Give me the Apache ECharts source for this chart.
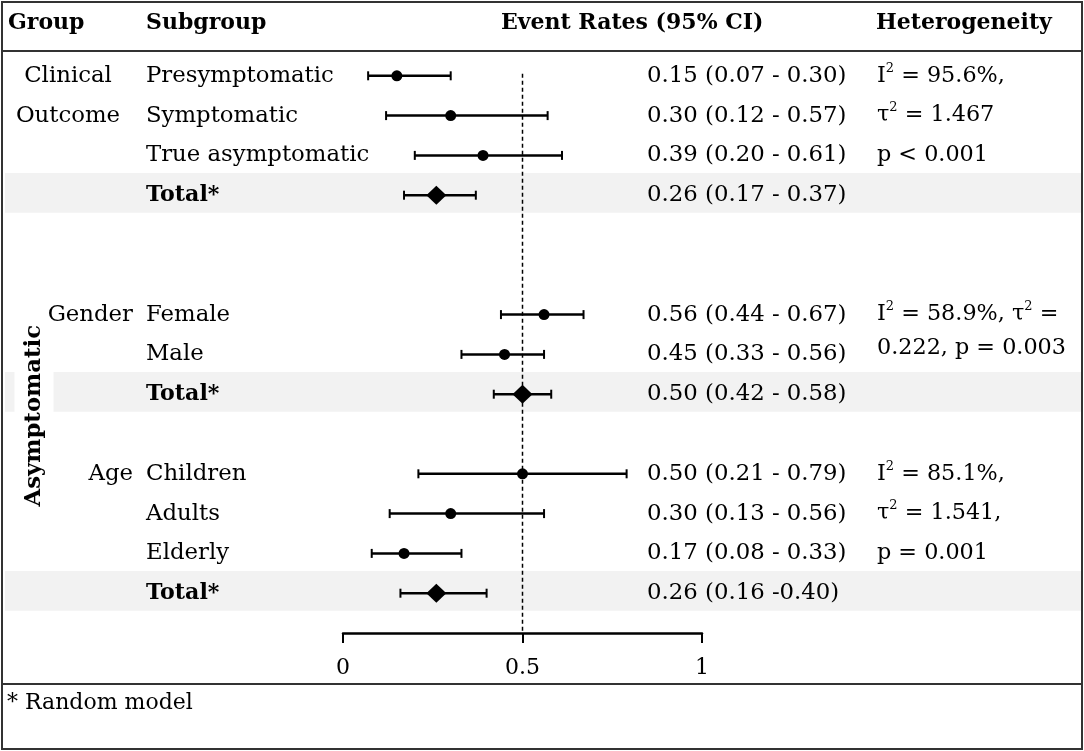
<!DOCTYPE html>
<html><head><meta charset="utf-8">
<script src="https://cdn.jsdelivr.net/npm/echarts@6/dist/echarts.min.js"></script>
<style>html,body{margin:0;padding:0;background:#fff}#c{width:1084px;height:751px}</style>
</head><body><div id="c"></div>
<script>
// ---- data ----
const subgroups = ['Presymptomatic','Symptomatic','True asymptomatic','Total*','Female','Male','Total*','Children','Adults','Elderly','Total*'];
const rows = [0,1,2,3,6,7,8,10,11,12,13];
const estimates = [0.15,0.30,0.39,0.26,0.56,0.45,0.50,0.50,0.30,0.17,0.26];
const lowerCI = [0.07,0.12,0.20,0.17,0.44,0.33,0.42,0.21,0.13,0.08,0.16];
const upperCI = [0.30,0.57,0.61,0.37,0.67,0.56,0.58,0.79,0.56,0.33,0.40];
const totalFlags = [false,false,false,true,false,false,true,false,false,false,true];
const ciLabels = ['0.15 (0.07 - 0.30)','0.30 (0.12 - 0.57)','0.39 (0.20 - 0.61)','0.26 (0.17 - 0.37)',
  '0.56 (0.44 - 0.67)','0.45 (0.33 - 0.56)','0.50 (0.42 - 0.58)',
  '0.50 (0.21 - 0.79)','0.30 (0.13 - 0.56)','0.17 (0.08 - 0.33)','0.26 (0.16 -0.40)'];
const groupLabels = ['Clinical','Outcome','Gender','Age'];
const groupRows = [0,1,6,10];
const hetLines = ['I{s|2} = 95.6%,','τ{s|2} = 1.467','p < 0.001','I{s|2} = 58.9%, τ{s|2} =','0.222, p = 0.003','I{s|2} = 85.1%,','τ{s|2} = 1.541,','p = 0.001'];
const hetRows = [0,1,2,6,6.85,10,11,12];
const xTicks = [0, 0.5, 1];
const headers = ['Group','Subgroup','Event Rates (95% CI)','Heterogeneity'];
const sideLabel = 'Asymptomatic';
const footnote = '* Random model';

// ---- layout ----
const FONT = 'DejaVu Serif';
const FS = 22.8;
const TXT = '#000';
const W = 1084, H = 751;
const gridTop = 36, gridBottom = 118;
const yMin = -1, yMax = 14;
const colGroupCenter = 68, colGroupRight = 133, colSub = 146, colCI = 647, colHet = 877;
const headerX = [8, 146, 501, 876];

const chart = echarts.init(document.getElementById('c'), null, {renderer: 'canvas'});

function labelSeries(data, labelOpt, extra) {
  return Object.assign({
    type: 'scatter', xAxisIndex: 1, yAxisIndex: 1, symbolSize: 0, silent: true, z: 4,
    itemStyle: {opacity: 1},
    data: data,
    label: Object.assign({show: true, fontFamily: FONT, fontSize: FS, color: TXT,
      formatter: p => p.data.t}, labelOpt)
  }, extra || {});
}

const totalRows = rows.filter((r, i) => totalFlags[i]);

const option = {
  animation: false,
  backgroundColor: '#fff',
  grid: [
    {left: 343, right: W - 702, top: gridTop, bottom: gridBottom},
    {left: 0, right: 0, top: gridTop, bottom: gridBottom}
  ],
  xAxis: [
    {gridIndex: 0, type: 'value', min: 0, max: 1, interval: 0.5, position: 'bottom',
      axisLine: {show: true, onZero: false, lineStyle: {color: '#000', width: 2.5}},
      axisTick: {show: true, length: 10, lineStyle: {color: '#000', width: 2}},
      axisLabel: {fontFamily: FONT, fontSize: 22, color: TXT, margin: 24,
        formatter: v => (xTicks.indexOf(v) >= 0 ? String(v) : '')},
      splitLine: {show: false}},
    {gridIndex: 1, type: 'value', min: 0, max: W, show: false}
  ],
  yAxis: [
    {gridIndex: 0, type: 'value', min: yMin, max: yMax, inverse: true, show: false},
    {gridIndex: 1, type: 'value', min: yMin, max: yMax, inverse: true, show: false}
  ],
  series: [
    // shaded total rows
    {type: 'scatter', xAxisIndex: 1, yAxisIndex: 1, data: [], z: 0, silent: true,
      markArea: {silent: true, itemStyle: {color: '#f2f2f2', opacity: 1},
        data: totalRows.map(r => [{xAxis: 5, yAxis: r - 0.56}, {xAxis: W - 3, yAxis: r + 0.44}])}},
    // group labels
    labelSeries(groupLabels.slice(0, 2).map((t, i) => ({value: [colGroupCenter, groupRows[i]], t})),
      {position: 'inside'}),
    labelSeries(groupLabels.slice(2).map((t, i) => ({value: [colGroupRight, groupRows[i + 2]], t})),
      {position: 'left', distance: 0}),
    // subgroup labels
    labelSeries(subgroups.map((t, i) => ({value: [colSub, rows[i]], t,
      label: totalFlags[i] ? {fontWeight: 'bold', fontSize: 22.2} : {}})),
      {position: 'right', distance: 0}),
    // CI labels
    labelSeries(ciLabels.map((t, i) => ({value: [colCI, rows[i]], t})),
      {position: 'right', distance: 0}),
    // heterogeneity
    labelSeries(hetLines.map((t, i) => ({value: [colHet, hetRows[i]], t})),
      {position: 'right', distance: 0, fontSize: 22.3, lineHeight: 28,
        rich: {s: {fontFamily: FONT, fontSize: 13, color: TXT, verticalAlign: 'top', lineHeight: 13}}}),
    // side label
    labelSeries([{value: [34, 8.54], t: sideLabel}],
      {position: 'inside', rotate: 90, fontWeight: 'bold', fontSize: 22.8,
        backgroundColor: '#fff', padding: [8, 0]}, {z: 6}),
    // reference line at 0.5
    {type: 'line', xAxisIndex: 0, yAxisIndex: 0, symbol: 'none', silent: true, z: 3,
      data: [[0.5, -0.05], [0.5, yMax]],
      lineStyle: {color: '#000', width: 1.5, type: [4, 3]}},
    // CI bars
    {type: 'custom', xAxisIndex: 0, yAxisIndex: 0, silent: true, z: 5,
      data: rows.map((r, i) => [lowerCI[i], upperCI[i], r]),
      encode: {x: [0, 1], y: 2},
      renderItem: function (params, api) {
        const a = api.coord([api.value(0), api.value(2)]);
        const b = api.coord([api.value(1), api.value(2)]);
        const h = 4.5;
        const st = {stroke: '#000', lineWidth: 2.5};
        return {type: 'group', children: [
          {type: 'line', shape: {x1: a[0], y1: a[1], x2: b[0], y2: b[1]}, style: st},
          {type: 'line', shape: {x1: a[0], y1: a[1] - h, x2: a[0], y2: a[1] + h}, style: {stroke: '#000', lineWidth: 2}},
          {type: 'line', shape: {x1: b[0], y1: b[1] - h, x2: b[0], y2: b[1] + h}, style: {stroke: '#000', lineWidth: 2}}
        ]};
      }},
    // point estimates
    {type: 'scatter', xAxisIndex: 0, yAxisIndex: 0, symbol: 'circle', symbolSize: 11, silent: true, z: 6,
      itemStyle: {color: '#000', opacity: 1},
      data: rows.map((r, i) => totalFlags[i] ? null : [estimates[i], r]).filter(d => d)},
    {type: 'scatter', xAxisIndex: 0, yAxisIndex: 0, symbol: 'diamond', symbolSize: [20, 19], silent: true, z: 6,
      itemStyle: {color: '#000', opacity: 1},
      data: rows.map((r, i) => totalFlags[i] ? [estimates[i], r] : null).filter(d => d)}
  ],
  graphic: [
    {type: 'rect', shape: {x: 2, y: 2, width: W - 4, height: H - 4}, style: {fill: null, stroke: '#333', lineWidth: 2}, z: 100, silent: true},
    {type: 'line', shape: {x1: 2, y1: 51, x2: W - 2, y2: 51}, style: {stroke: '#333', lineWidth: 2}, z: 100, silent: true},
    {type: 'line', shape: {x1: 2, y1: 684, x2: W - 2, y2: 684}, style: {stroke: '#333', lineWidth: 2}, z: 100, silent: true}
  ].concat(headers.map((t, i) => ({type: 'text', x: headerX[i], y: 23, z: 100, silent: true,
      style: {text: t, fontFamily: FONT, fontSize: 22, fontWeight: 'bold', fill: TXT, verticalAlign: 'middle'}})))
   .concat([{type: 'text', x: 7, y: 703, z: 100, silent: true,
      style: {text: footnote, fontFamily: FONT, fontSize: 22, fill: TXT, verticalAlign: 'middle'}}])
};
chart.setOption(option);
</script></body></html>
